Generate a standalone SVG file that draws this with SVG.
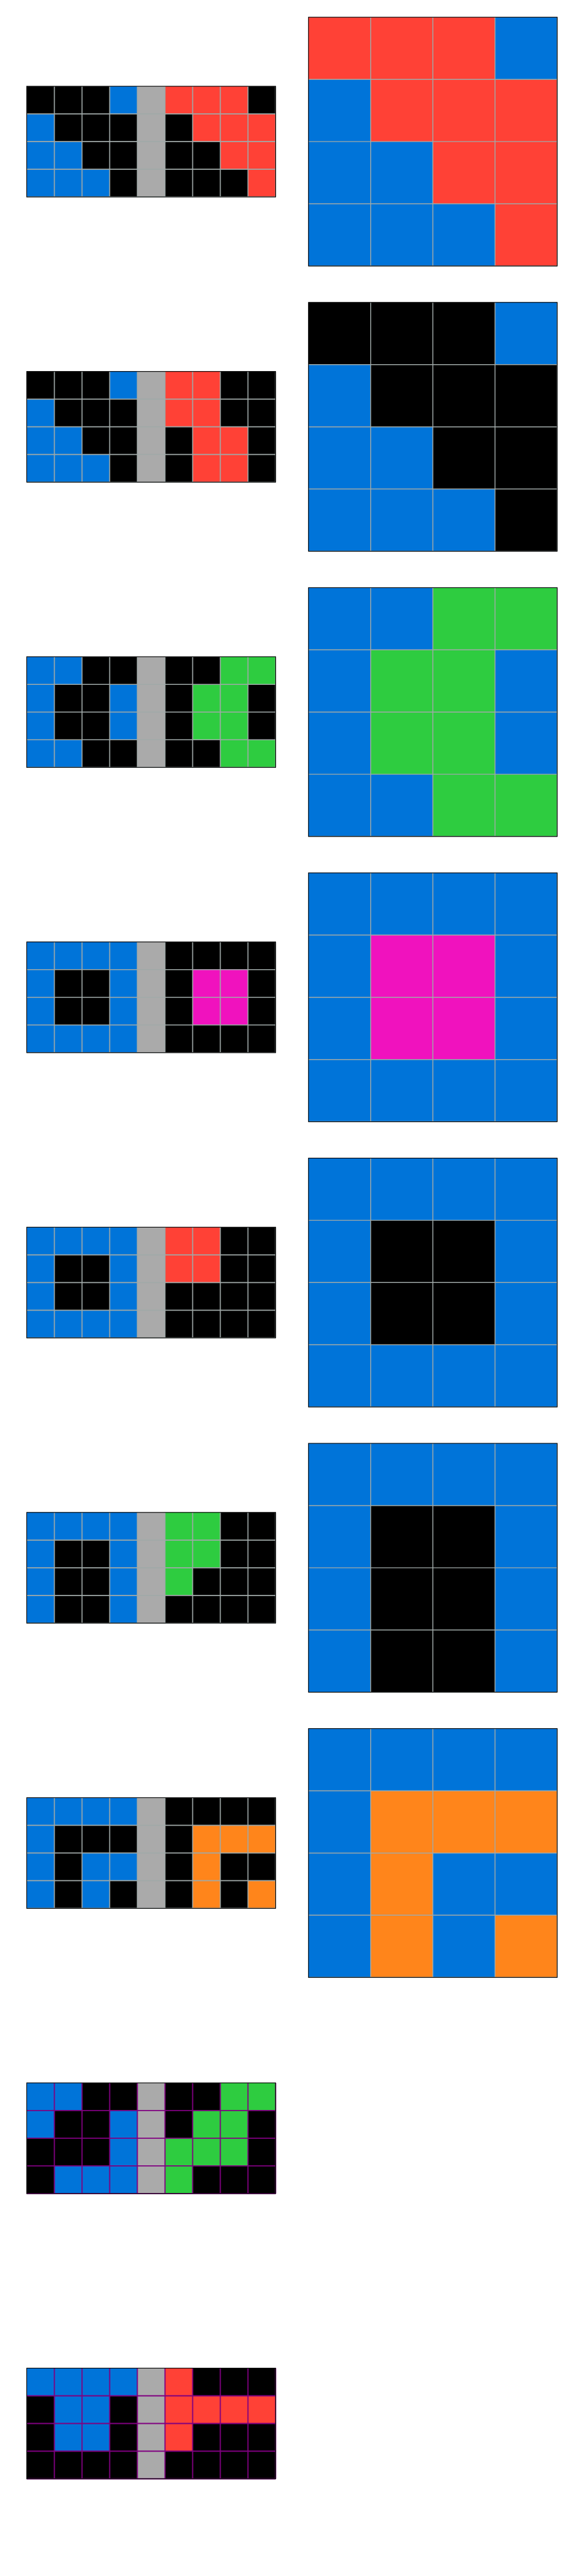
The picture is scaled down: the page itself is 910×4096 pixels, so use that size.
<svg xmlns="http://www.w3.org/2000/svg" xmlns:xlink="http://www.w3.org/1999/xlink" width="910" height="4096" viewBox="0 0 910 4096">
<style>
.k{fill:#000000}
.b{fill:#0074D9}
.r{fill:#FF4136}
.g{fill:#2ECC40}
.x{fill:#AAAAAA}
.m{fill:#F012BE}
.o{fill:#FF851B}
.gl{fill:none;stroke:#a0a9a8;stroke-width:1.8}
.gr{fill:none;stroke:#a0a9a8;stroke-width:1.6}
.pl{fill:none;stroke:#800080;stroke-width:2}
.bd{fill:none;stroke:#000000;stroke-width:1.2}
</style>
<defs>
<path id="lgrid" d="M48.35 0V193.4M96.7 0V193.4M145.05 0V193.4M193.4 0V193.4M241.75 0V193.4M290.1 0V193.4M338.45 0V193.4M386.8 0V193.4M435.15 0V193.4M0 48.35H435.15M0 96.7H435.15M0 145.05H435.15M0 193.4H435.15"/>
<path id="rgrid" d="M108.7 0V434.8M217.4 0V434.8M326.1 0V434.8M434.8 0V434.8M0 108.7H434.8M0 217.4H434.8M0 326.1H434.8M0 434.8H434.8"/>
<rect id="lbg" width="435.15" height="193.4"/>
<rect id="rbg" width="434.8" height="434.8"/>
<rect id="sep" x="193.4" y="0" width="48.35" height="193.4"/>
</defs>
<rect width="910" height="4096" fill="#ffffff"/>
<g transform="scale(0.91)">

<!-- Pair 1 -->
<g id="pair1-input" transform="translate(46.7,150.7)">
<use xlink:href="#lbg" class="k"/><use xlink:href="#sep" class="x"/>
<rect class="b" x="145.05" y="0" width="48.35" height="48.35"/>
<rect class="b" x="0" y="48.35" width="48.35" height="145.05"/>
<rect class="b" x="48.35" y="96.7" width="48.35" height="96.7"/>
<rect class="b" x="96.7" y="145.05" width="48.35" height="48.35"/>
<rect class="r" x="241.75" y="0" width="145.05" height="48.35"/>
<rect class="r" x="290.1" y="48.35" width="145.05" height="48.35"/>
<rect class="r" x="338.45" y="96.7" width="96.7" height="48.35"/>
<rect class="r" x="386.8" y="145.05" width="48.35" height="48.35"/>
<use xlink:href="#lgrid" class="gl"/><use xlink:href="#lbg" class="bd"/>
</g>
<g id="pair1-output" transform="translate(539.3,30)">
<use xlink:href="#rbg" class="r"/>
<rect class="b" x="326.1" y="0" width="108.7" height="108.7"/>
<rect class="b" x="0" y="108.7" width="108.7" height="326.1"/>
<rect class="b" x="108.7" y="217.4" width="108.7" height="217.4"/>
<rect class="b" x="217.4" y="326.1" width="108.7" height="108.7"/>
<use xlink:href="#rgrid" class="gr"/><use xlink:href="#rbg" class="bd"/>
</g>

<!-- Pair 2 -->
<g id="pair2-input" transform="translate(46.7,649.1)">
<use xlink:href="#lbg" class="k"/><use xlink:href="#sep" class="x"/>
<rect class="b" x="145.05" y="0" width="48.35" height="48.35"/>
<rect class="b" x="0" y="48.35" width="48.35" height="145.05"/>
<rect class="b" x="48.35" y="96.7" width="48.35" height="96.7"/>
<rect class="b" x="96.7" y="145.05" width="48.35" height="48.35"/>
<rect class="r" x="241.75" y="0" width="96.7" height="96.7"/>
<rect class="r" x="290.1" y="96.7" width="96.7" height="96.7"/>
<use xlink:href="#lgrid" class="gl"/><use xlink:href="#lbg" class="bd"/>
</g>
<g id="pair2-output" transform="translate(539.3,528.4)">
<use xlink:href="#rbg" class="k"/>
<rect class="b" x="326.1" y="0" width="108.7" height="108.7"/>
<rect class="b" x="0" y="108.7" width="108.7" height="326.1"/>
<rect class="b" x="108.7" y="217.4" width="108.7" height="217.4"/>
<rect class="b" x="217.4" y="326.1" width="108.7" height="108.7"/>
<use xlink:href="#rgrid" class="gr"/><use xlink:href="#rbg" class="bd"/>
</g>

<!-- Pair 3 -->
<g id="pair3-input" transform="translate(46.7,1147.5)">
<use xlink:href="#lbg" class="k"/><use xlink:href="#sep" class="x"/>
<rect class="b" x="0" y="0" width="48.35" height="193.4"/>
<rect class="b" x="48.35" y="0" width="48.35" height="48.35"/>
<rect class="b" x="48.35" y="145.05" width="48.35" height="48.35"/>
<rect class="b" x="145.05" y="48.35" width="48.35" height="96.7"/>
<rect class="g" x="338.45" y="0" width="96.7" height="48.35"/>
<rect class="g" x="290.1" y="48.35" width="96.7" height="96.7"/>
<rect class="g" x="338.45" y="145.05" width="96.7" height="48.35"/>
<use xlink:href="#lgrid" class="gl"/><use xlink:href="#lbg" class="bd"/>
</g>
<g id="pair3-output" transform="translate(539.3,1026.8)">
<use xlink:href="#rbg" class="b"/>
<rect class="g" x="217.4" y="0" width="217.4" height="108.7"/>
<rect class="g" x="108.7" y="108.7" width="217.4" height="217.4"/>
<rect class="g" x="217.4" y="326.1" width="217.4" height="108.7"/>
<use xlink:href="#rgrid" class="gr"/><use xlink:href="#rbg" class="bd"/>
</g>

<!-- Pair 4 -->
<g id="pair4-input" transform="translate(46.7,1645.9)">
<use xlink:href="#lbg" class="k"/><use xlink:href="#sep" class="x"/>
<rect class="b" x="0" y="0" width="193.4" height="48.35"/>
<rect class="b" x="0" y="145.05" width="193.4" height="48.35"/>
<rect class="b" x="0" y="48.35" width="48.35" height="96.7"/>
<rect class="b" x="145.05" y="48.35" width="48.35" height="96.7"/>
<rect class="m" x="290.1" y="48.35" width="96.7" height="96.7"/>
<use xlink:href="#lgrid" class="gl"/><use xlink:href="#lbg" class="bd"/>
</g>
<g id="pair4-output" transform="translate(539.3,1525.2)">
<use xlink:href="#rbg" class="b"/>
<rect class="m" x="108.7" y="108.7" width="217.4" height="217.4"/>
<use xlink:href="#rgrid" class="gr"/><use xlink:href="#rbg" class="bd"/>
</g>

<!-- Pair 5 -->
<g id="pair5-input" transform="translate(46.7,2144.3)">
<use xlink:href="#lbg" class="k"/><use xlink:href="#sep" class="x"/>
<rect class="b" x="0" y="0" width="193.4" height="48.35"/>
<rect class="b" x="0" y="145.05" width="193.4" height="48.35"/>
<rect class="b" x="0" y="48.35" width="48.35" height="96.7"/>
<rect class="b" x="145.05" y="48.35" width="48.35" height="96.7"/>
<rect class="r" x="241.75" y="0" width="96.7" height="96.7"/>
<use xlink:href="#lgrid" class="gl"/><use xlink:href="#lbg" class="bd"/>
</g>
<g id="pair5-output" transform="translate(539.3,2023.6)">
<use xlink:href="#rbg" class="b"/>
<rect class="k" x="108.7" y="108.7" width="217.4" height="217.4"/>
<use xlink:href="#rgrid" class="gr"/><use xlink:href="#rbg" class="bd"/>
</g>

<!-- Pair 6 -->
<g id="pair6-input" transform="translate(46.7,2642.7)">
<use xlink:href="#lbg" class="k"/><use xlink:href="#sep" class="x"/>
<rect class="b" x="0" y="0" width="193.4" height="48.35"/>
<rect class="b" x="0" y="48.35" width="48.35" height="145.05"/>
<rect class="b" x="145.05" y="48.35" width="48.35" height="145.05"/>
<rect class="g" x="241.75" y="0" width="96.7" height="96.7"/>
<rect class="g" x="241.75" y="96.7" width="48.35" height="48.35"/>
<use xlink:href="#lgrid" class="gl"/><use xlink:href="#lbg" class="bd"/>
</g>
<g id="pair6-output" transform="translate(539.3,2522)">
<use xlink:href="#rbg" class="b"/>
<rect class="k" x="108.7" y="108.7" width="217.4" height="326.1"/>
<use xlink:href="#rgrid" class="gr"/><use xlink:href="#rbg" class="bd"/>
</g>

<!-- Pair 7 -->
<g id="pair7-input" transform="translate(46.7,3141.1)">
<use xlink:href="#lbg" class="k"/><use xlink:href="#sep" class="x"/>
<rect class="b" x="0" y="0" width="193.4" height="48.35"/>
<rect class="b" x="0" y="48.35" width="48.35" height="145.05"/>
<rect class="b" x="96.7" y="96.7" width="96.7" height="48.35"/>
<rect class="b" x="96.7" y="145.05" width="48.35" height="48.35"/>
<rect class="o" x="290.1" y="48.35" width="145.05" height="48.35"/>
<rect class="o" x="290.1" y="96.7" width="48.35" height="96.7"/>
<rect class="o" x="386.8" y="145.05" width="48.35" height="48.35"/>
<use xlink:href="#lgrid" class="gl"/><use xlink:href="#lbg" class="bd"/>
</g>
<g id="pair7-output" transform="translate(539.3,3020.4)">
<use xlink:href="#rbg" class="b"/>
<rect class="o" x="108.7" y="108.7" width="326.1" height="108.7"/>
<rect class="o" x="108.7" y="217.4" width="108.7" height="217.4"/>
<rect class="o" x="326.1" y="326.1" width="108.7" height="108.7"/>
<use xlink:href="#rgrid" class="gr"/><use xlink:href="#rbg" class="bd"/>
</g>

<!-- Test 1 -->
<g id="test1-input" transform="translate(46.7,3639.5)">
<use xlink:href="#lbg" class="k"/><use xlink:href="#sep" class="x"/>
<rect class="b" x="0" y="0" width="96.7" height="48.35"/>
<rect class="b" x="0" y="48.35" width="48.35" height="48.35"/>
<rect class="b" x="145.05" y="48.35" width="48.35" height="145.05"/>
<rect class="b" x="48.35" y="145.05" width="96.7" height="48.35"/>
<rect class="g" x="338.45" y="0" width="96.7" height="48.35"/>
<rect class="g" x="290.1" y="48.35" width="96.7" height="48.35"/>
<rect class="g" x="241.75" y="96.7" width="145.05" height="48.35"/>
<rect class="g" x="241.75" y="145.05" width="48.35" height="48.35"/>
<use xlink:href="#lgrid" class="pl"/><use xlink:href="#lbg" class="bd"/>
</g>

<!-- Test 2 -->
<g id="test2-input" transform="translate(46.7,4137.9)">
<use xlink:href="#lbg" class="k"/><use xlink:href="#sep" class="x"/>
<rect class="b" x="0" y="0" width="193.4" height="48.35"/>
<rect class="b" x="48.35" y="48.35" width="96.7" height="96.7"/>
<rect class="r" x="241.75" y="0" width="48.35" height="145.05"/>
<rect class="r" x="290.1" y="48.35" width="145.05" height="48.35"/>
<use xlink:href="#lgrid" class="pl"/><use xlink:href="#lbg" class="bd"/>
</g>

</g>
</svg>
